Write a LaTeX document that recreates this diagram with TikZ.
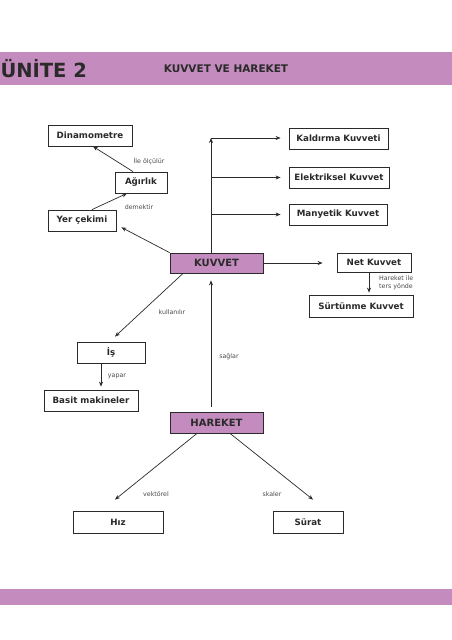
\documentclass[tikz,border=0pt]{standalone}
\usepackage{fontspec}
\setmainfont{DejaVu Sans}
\usetikzlibrary{arrows.meta}
\definecolor{unitpink}{HTML}{C48BBE}
\definecolor{inkgray}{HTML}{2A2A2A}
\begin{document}
\begin{tikzpicture}[x=1pt,y=-1pt,
  box/.style={draw=inkgray,line width=0.8pt,fill=white,minimum height=21pt,inner sep=0pt,text=inkgray,font=\fontsize{8.7}{10}\selectfont\bfseries},
  mainbox/.style={box,fill=unitpink,font=\fontsize{10}{12}\selectfont\bfseries},
  tag/.style={text=inkgray!85,font=\fontsize{6.3}{7.3}\selectfont,inner sep=0pt},
  arr/.style={-{Stealth[length=5pt,width=4pt]},draw=inkgray,line width=0.7pt}]
 \useasboundingbox (0,0) rectangle (452,640);
 \fill[unitpink] (0,52) rectangle (452,85);
 \fill[unitpink] (0,589) rectangle (452,605);
 \node[anchor=west,text=inkgray,font=\fontsize{19.5}{22}\selectfont\bfseries] (unite) at (-3,69) {ÜNİTE 2};
 \node[text=inkgray,font=\fontsize{10.5}{12}\selectfont\bfseries] (title) at (226,69) {KUVVET VE HAREKET};
 \node[box,minimum width=84pt] (din) at (90,135.5) {Dinamometre};
 \node[box,minimum width=52pt] (agr) at (141,182.5) {Ağırlık};
 \node[box,minimum width=68pt] (yer) at (82,220.5) {Yer çekimi};
 \node[box,minimum width=99pt] (kal) at (338.5,138.5) {Kaldırma Kuvveti};
 \node[box,minimum width=100pt] (elk) at (339,177.5) {Elektriksel Kuvvet};
 \node[box,minimum width=98pt] (man) at (338,214.5) {Manyetik Kuvvet};
 \node[mainbox,minimum width=93pt,minimum height=20pt] (kuv) at (216.5,263) {KUVVET};
 \node[box,minimum width=74pt,minimum height=19pt] (net) at (374,262.5) {Net Kuvvet};
 \node[box,minimum width=104pt,minimum height=22pt] (sur) at (361,306) {Sürtünme Kuvvet};
 \node[box,minimum width=68pt] (is) at (111,352.5) {İş};
 \node[box,minimum width=94pt] (bas) at (91,400.5) {Basit makineler};
 \node[mainbox,minimum width=93pt] (har) at (216.5,422.5) {HAREKET};
 \node[box,minimum width=90pt,minimum height=22pt] (hiz) at (118,522) {Hız};
 \node[box,minimum width=70pt,minimum height=22pt] (sura) at (308,522) {Sürat};
 \coordinate (top) at (211,138);
 \draw[arr] ([xshift=-8pt]agr.north) -- ([xshift=3pt]din.south);
 \draw[arr] ([xshift=10pt]yer.north) -- ([xshift=-14pt]agr.south);
 \draw[arr] (kuv.north west) -- ([xshift=5pt,yshift=4pt]yer.south east);
 \draw[arr] ([xshift=-5.5pt]kuv.north) -- (top);
 \draw[arr,shorten >=8pt] (top) -- (top -| kal.west);
 \draw[arr,shorten >=8pt] (elk.west -| top) -- (elk.west);
 \draw[arr,shorten >=8pt] (man.west -| top) -- (man.west);
 \draw[arr,shorten >=14pt] (kuv.east) -- (kuv.east -| net.west);
 \draw[arr,shorten >=2pt] ([xshift=-5pt]net.south) -- ([xshift=-5pt]net.south |- sur.north);
 \draw[arr] ([xshift=-33.5pt]kuv.south) -- ([xshift=4pt,yshift=5pt]is.north);
 \draw[arr,shorten >=3pt] ([xshift=-10pt]is.south) -- ([xshift=-10pt]is.south |- bas.north);
 \draw[arr,{Stealth[length=5pt,width=4pt]}-,shorten <=7pt,shorten >=5pt] ([xshift=-5.5pt]kuv.south) -- ([xshift=-5.5pt]har.north);
 \draw[arr] ([xshift=-19.5pt]har.south) -- ([xshift=-3pt,yshift=11pt]hiz.north);
 \draw[arr] ([xshift=13.5pt]har.south) -- ([xshift=5pt,yshift=11pt]sura.north);
 \node[tag] (olc) at (149,161) {İle ölçülür};
 \node[tag] (dem) at (139,207) {demektir};
 \node[tag] (kul) at (172,312) {kullanılır};
 \node[tag] (yap) at (117,376) {yapar};
 \node[tag] (sag) at (229,357) {sağlar};
 \node[tag,anchor=west,align=left] (ters) at (379,283) {Hareket ile\\[1pt]ters yönde};
 \node[tag] (vek) at (156,494) {vektörel};
 \node[tag] (ska) at (272,494) {skaler};
\end{tikzpicture}
\end{document}
